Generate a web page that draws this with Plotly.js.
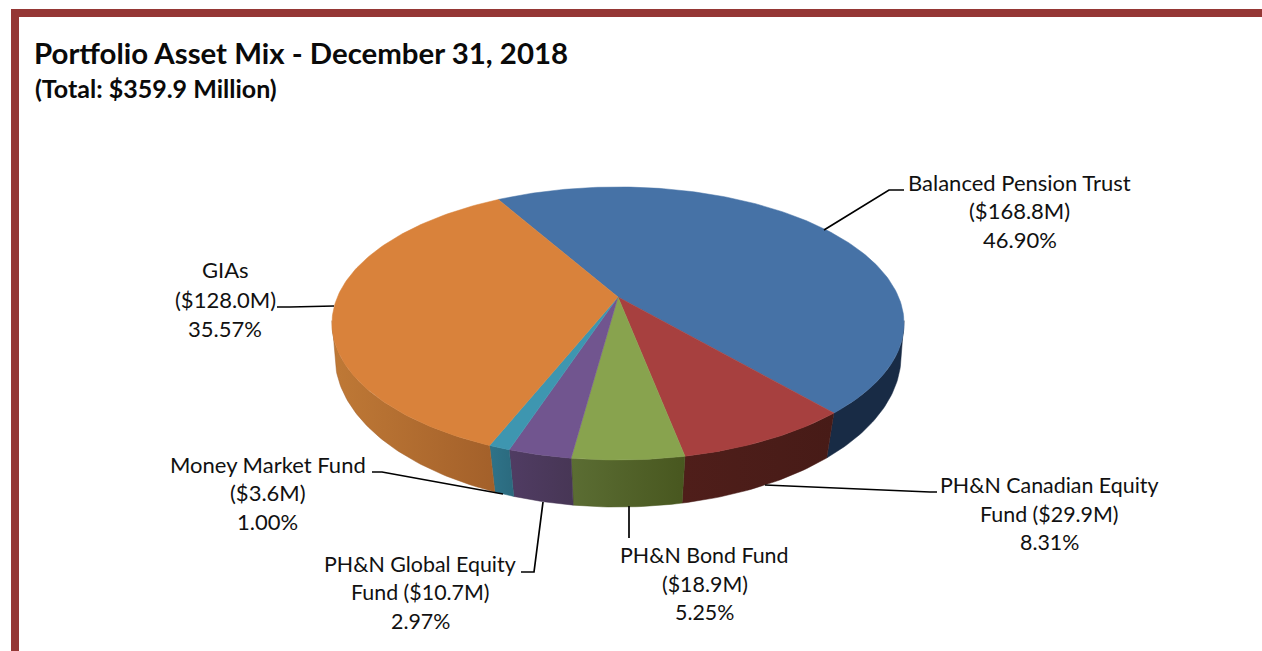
<!DOCTYPE html>
<html>
<head>
<meta charset="utf-8">
<script src="https://cdn.plot.ly/plotly-3.0.1.min.js"></script>
<style>html,body{margin:0;padding:0;background:#fff;overflow:hidden}#chart{width:1262px;height:651px}</style>
</head>
<body>
<div id="chart"></div>
<script>
// ---- data ----
const funds = ["Balanced Pension Trust","PH&N Canadian Equity Fund","PH&N Bond Fund","PH&N Global Equity Fund","Money Market Fund","GIAs"];
const amounts = [168.8, 29.9, 18.9, 10.7, 3.6, 128.0];
const percents = [46.90, 8.31, 5.25, 2.97, 1.00, 35.57];
const topColors = ["#4672a6","#a7403f","#88a34e","#71558f","#3e96b0","#d9823b"];
const wallLeft = ["#182b45","#4f1e1a","#5b6d33","#503c63","#2f7389","#bf7936"];
const wallRight = ["#182b45","#471b17","#48571f","#473655","#2b6a7e","#a3602a"];
const titleText = "Portfolio Asset Mix - December 31, 2018";
const subtitleText = "(Total: $359.9 Million)";

// label line breaks, built from the values above
const money = a => "($" + a.toFixed(1) + "M)";
const pct = p => p.toFixed(2) + "%";
const labelLines = [
  [funds[0], money(amounts[0]), pct(percents[0])],
  ["PH&N Canadian Equity", "Fund (" + money(amounts[1]).slice(1), pct(percents[1])],
  [funds[2], money(amounts[2]), pct(percents[2])],
  ["PH&N Global Equity", "Fund (" + money(amounts[3]).slice(1), pct(percents[3])],
  [funds[4], money(amounts[4]), pct(percents[4])],
  [funds[5], money(amounts[5]), pct(percents[5])]
];

// ---- view geometry (perspective projection of the two discs) ----
const startDeg = -29.9;
const topDisc = {x0:618, y0:297, c:280.6, a:131.4, b:0.194};
const lowDisc = {x0:618, y0:331.8, c:279.4, a:147.2, b:0.16};
const visibleFrom = 100, visibleTo = 260;
function project(d, deg){
  const t = deg*Math.PI/180, X = Math.sin(t), Y = Math.cos(t), w = 1 + d.b*Y;
  return [d.x0 + d.c*X/w, d.y0 - d.a*Y/w];
}
function arc(d, from, to){
  const n = Math.max(2, Math.ceil(Math.abs(to-from))), out = [];
  for(let i=0;i<=n;i++) out.push(project(d, from+(to-from)*i/n));
  return out;
}
const total = percents.reduce((s,v)=>s+v,0);
const spans = [];
percents.reduce((acc,v)=>{ const e = acc + v/total*360; spans.push([acc,e]); return e; }, startDeg);

const traces = [];
// side walls first
spans.forEach((sp,i)=>{
  const candidates = [[sp[0],sp[1]],[sp[0]+360,sp[1]+360],[sp[0]-360,sp[1]-360]];
  candidates.forEach(c=>{
    const f = Math.max(c[0],visibleFrom), t = Math.min(c[1],visibleTo);
    if(t<=f) return;
    const pts = arc(topDisc,f,t).concat(arc(lowDisc,t,f));
    pts.push(pts[0]);
    traces.push({type:"scatter",mode:"lines",x:pts.map(p=>p[0]),y:pts.map(p=>p[1]),
      fill:"toself",line:{width:0.5,color:wallRight[i]},hoverinfo:"skip",
      fillcolor:wallRight[i],
      fillgradient:{type:"horizontal",colorscale:[[0,wallLeft[i]],[1,wallRight[i]]]}});
  });
});
// top faces
spans.forEach((sp,i)=>{
  const pts = [[topDisc.x0,topDisc.y0]].concat(arc(topDisc,sp[0],sp[1]));
  pts.push(pts[0]);
  traces.push({type:"scatter",mode:"lines",x:pts.map(p=>p[0]),y:pts.map(p=>p[1]),name:funds[i],
    fill:"toself",fillcolor:topColors[i],line:{width:0.5,color:topColors[i]},
    text:funds[i]+": "+pct(percents[i]),hoverinfo:"text"});
});

// ---- label layout ----
const labelPos = [
  {x:1019.5,y:[182.5,210.5,239.5],s:22},
  {x:1049.5,y:[484.5,513.5,541.5],s:21.4},
  {x:704.5,y:[554.5,583.5,611.5],s:21.4},
  {x:420,y:[563.5,591.5,620.5],s:21.4},
  {x:267.5,y:[464.5,492.5,521.5],s:22},
  {x:225,y:[269.5,299.5,328.5],s:22}
];
const annotations = [];
labelLines.forEach((ls,i)=>ls.forEach((t,j)=>annotations.push({
  text:t.replace(/&/g,"&amp;"),x:labelPos[i].x,y:labelPos[i].y[j],xref:"x",yref:"y",showarrow:false,
  xanchor:"center",yanchor:"middle",font:{family:"Lato",size:labelPos[i].s,color:"#111"}
})));
annotations.push({text:"<b>"+subtitleText+"</b>",x:33,y:88,xref:"x",yref:"y",showarrow:false,
  xanchor:"left",yanchor:"middle",font:{family:"Lato",size:25,color:"#0a0a0a"}});

const leaders = [
  "M824,230 L889,190 L904,190",
  "M765,485 L930,492 L937,492",
  "M629,506 L629,538",
  "M543,502 L534,572 L521,572",
  "M372,472 L382,472 L503,494",
  "M334,306 L290,307 L277,307"
];
const shapes = leaders.map(p=>({type:"path",path:p,xref:"x",yref:"y",line:{color:"#000",width:1.7},layer:"above"}));
const border = "#953735";
shapes.push({type:"rect",xref:"x",yref:"y",x0:11,x1:19,y0:9,y1:651,fillcolor:border,line:{width:0},layer:"below"});
shapes.push({type:"rect",xref:"x",yref:"y",x0:11,x1:1262,y0:9,y1:17,fillcolor:border,line:{width:0},layer:"below"});

const layout = {
  width:1262,height:651,margin:{l:0,r:0,t:0,b:0},paper_bgcolor:"#fff",plot_bgcolor:"#fff",showlegend:false,
  title:{text:"<b>"+titleText+"</b>",x:34/1262,xanchor:"left",xref:"paper",y:1-54/651,yanchor:"middle",yref:"paper",
    font:{family:"Lato",size:29.4,color:"#0a0a0a"}},
  xaxis:{range:[0,1262],visible:false,fixedrange:true},
  yaxis:{range:[651,0],visible:false,fixedrange:true},
  annotations,shapes
};
Plotly.newPlot("chart",traces,layout,{displayModeBar:false,staticPlot:false});
</script>
</body>
</html>
